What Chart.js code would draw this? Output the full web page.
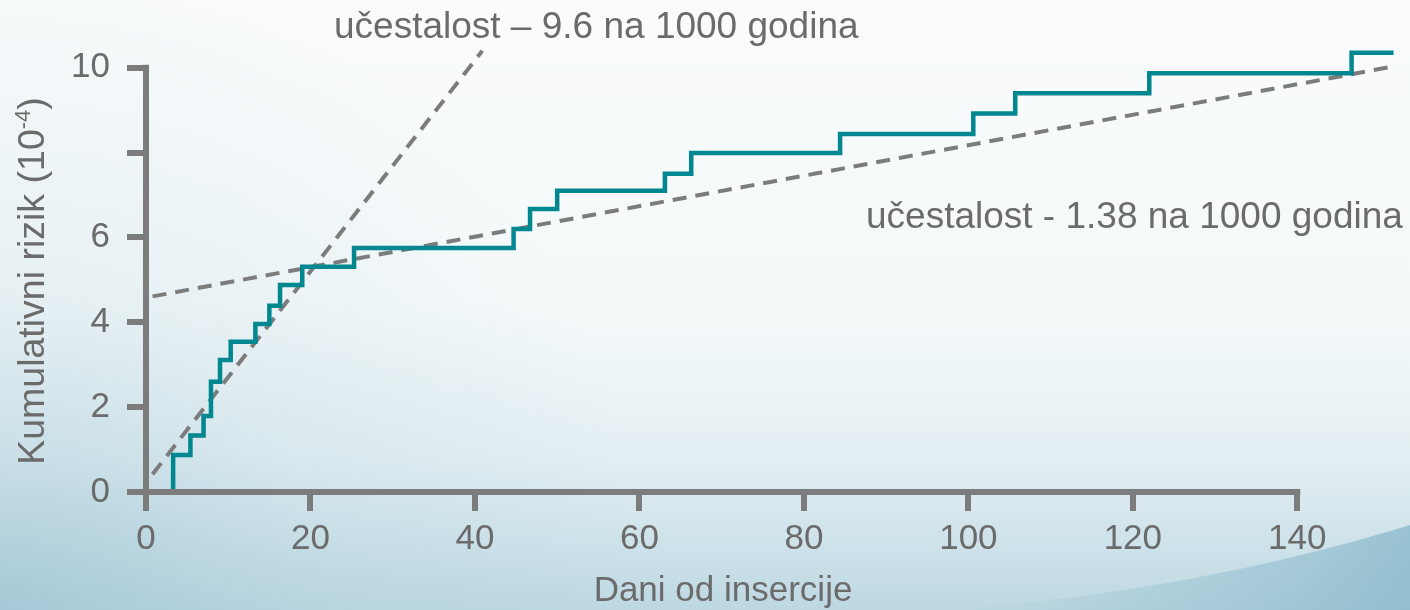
<!DOCTYPE html>
<html>
<head>
<meta charset="utf-8">
<script src="https://cdn.jsdelivr.net/npm/chart.js@4.4.1/dist/chart.umd.min.js"></script>
<style>
  html, body { margin: 0; padding: 0; }
  #wrap { width: 1410px; height: 610px; position: relative; }
</style>
</head>
<body>
<div id="wrap"><canvas id="risk-chart"></canvas></div>
<script>
// days at which the cumulative risk steps up, and the level after each step
const stepDays = [3.3, 5.4, 7.0, 7.9, 9.0, 10.3, 13.3, 15.0, 16.3, 19.0, 25.3, 44.7, 46.7, 50.0, 63.1, 66.3, 84.4, 100.6, 105.7, 122.0, 146.6];
const riskLevels = [0.87, 1.33, 1.79, 2.60, 3.11, 3.54, 3.96, 4.39, 4.88, 5.31, 5.75, 6.20, 6.67, 7.10, 7.50, 7.99, 8.44, 8.92, 9.40, 9.87, 10.35];
const lastDay = 151.7;

// the two fitted rates (dashed)
const steepDays = [0.8, 40.9];
const steepRisk = [0.42, 10.4];
const flatDays = [0.8, 151.7];
const flatRisk = [4.61, 10.03];

const xTicks = [0, 20, 40, 60, 80, 100, 120, 140];
const yTicks = [0, 2, 4, 6, 8, 10];
const yTickLabels = ["0", "2", "4", "6", "", "10"];

const gray = "#7c7c7c";
const textGray = "#6b6b6b";
const font = "'Liberation Sans', Arial, sans-serif";

const stepPoints = [{ x: stepDays[0], y: 0 }];
stepDays.forEach((d, i) => stepPoints.push({ x: d, y: riskLevels[i] }));
stepPoints.push({ x: lastDay, y: riskLevels[riskLevels.length - 1] });

const toPoints = (xs, ys) => xs.map((x, i) => ({ x: x, y: ys[i] }));

const backdrop = {
  id: "backdrop",
  beforeDraw(chart) {
    const ctx = chart.ctx, w = chart.width, h = chart.height;
    ctx.save();
    let g = ctx.createLinearGradient(0, 0, 0, h);
    g.addColorStop(0, "#f9fbfc");
    g.addColorStop(0.5, "#f5f9fa");
    g.addColorStop(0.75, "#e4eff3");
    g.addColorStop(1, "#bdd8e2");
    ctx.fillStyle = g;
    ctx.fillRect(0, 0, w, h);

    // soft bluish glow from the bottom left corner
    g = ctx.createRadialGradient(0, h, 0, 0, h, 650);
    g.addColorStop(0, "rgba(135,182,200,0.45)");
    g.addColorStop(0.5, "rgba(150,192,208,0.15)");
    g.addColorStop(1, "rgba(150,192,208,0)");
    ctx.fillStyle = g;
    ctx.fillRect(0, 0, w, h);

    // darker swoosh at the bottom right
    ctx.beginPath();
    ctx.moveTo(950, h);
    ctx.quadraticCurveTo(1200, 590, w, 525);
    ctx.lineTo(w, h);
    ctx.closePath();
    g = ctx.createLinearGradient(950, 0, w, 0);
    g.addColorStop(0, "rgba(140,185,202,0)");
    g.addColorStop(1, "rgba(130,180,200,0.7)");
    ctx.fillStyle = g;
    ctx.fill();
    ctx.restore();
  }
};

const axesAndText = {
  id: "axesAndText",
  afterDraw(chart) {
    const ctx = chart.ctx;
    const xs = chart.scales.x, ys = chart.scales.y;
    const x0 = xs.getPixelForValue(0), x140 = xs.getPixelForValue(140);
    const y0 = ys.getPixelForValue(0), y10 = ys.getPixelForValue(10);
    ctx.save();
    ctx.strokeStyle = gray;
    ctx.lineWidth = 6;
    ctx.lineCap = "butt";
    ctx.beginPath();
    ctx.moveTo(x0 - 3, y0);
    ctx.lineTo(x140 + 3, y0);
    ctx.moveTo(x0, y0 + 3);
    ctx.lineTo(x0, y10 - 3);
    ctx.stroke();

    ctx.fillStyle = textGray;
    ctx.textBaseline = "alphabetic";
    ctx.font = "37px " + font;
    ctx.textAlign = "left";
    ctx.fillText("učestalost – 9.6 na 1000 godina", 334, 38);
    ctx.fillText("učestalost - 1.38 na 1000 godina", 866, 228);

    ctx.font = "35px " + font;
    ctx.textAlign = "center";
    ctx.fillText("Dani od insercije", 723, 601);

    // rotated y title with superscript exponent
    ctx.translate(44, 281);
    ctx.rotate(-Math.PI / 2);
    const main = "Kumulativni rizik (10", sup = "-4", close = ")";
    ctx.font = "37.5px " + font;
    const wMain = ctx.measureText(main).width, wClose = ctx.measureText(close).width;
    ctx.font = "22px " + font;
    const wSup = ctx.measureText(sup).width;
    let x = -(wMain + wSup + wClose) / 2;
    ctx.textAlign = "left";
    ctx.font = "37.5px " + font;
    ctx.fillText(main, x, 0);
    x += wMain;
    ctx.font = "22px " + font;
    ctx.fillText(sup, x, -14);
    x += wSup;
    ctx.font = "37.5px " + font;
    ctx.fillText(close, x, 0);
    ctx.restore();
  }
};

new Chart(document.getElementById("risk-chart"), {
  type: "line",
  data: {
    datasets: [
      {
        label: "Kumulativni rizik",
        data: stepPoints,
        stepped: true,
        borderColor: "#00878f",
        borderWidth: 4.5,
        pointRadius: 0,
        fill: false
      },
      {
        label: "9.6 na 1000 godina",
        data: toPoints(steepDays, steepRisk),
        borderColor: gray,
        borderWidth: 4,
        borderDash: [14, 9],
        pointRadius: 0,
        fill: false
      },
      {
        label: "1.38 na 1000 godina",
        data: toPoints(flatDays, flatRisk),
        borderColor: gray,
        borderWidth: 4,
        borderDash: [14, 9],
        pointRadius: 0,
        fill: false
      }
    ]
  },
  options: {
    responsive: true,
    maintainAspectRatio: false,
    animation: false,
    layout: { padding: { top: 38, right: 14, left: 0, bottom: 0 } },
    plugins: {
      legend: { display: false },
      tooltip: { enabled: false }
    },
    scales: {
      x: {
        type: "linear",
        min: 0,
        max: 152,
        afterFit: (s) => { s.height = 118; },
        afterBuildTicks: (s) => { s.ticks = xTicks.map(v => ({ value: v })); },
        border: { display: false },
        grid: { drawOnChartArea: false, drawTicks: true, tickLength: 19, lineWidth: 6, color: gray },
        ticks: { color: textGray, font: { family: font, size: 35 }, padding: 7, maxRotation: 0 }
      },
      y: {
        type: "linear",
        min: 0,
        max: 10.7,
        afterFit: (s) => { s.width = 146; },
        afterBuildTicks: (s) => { s.ticks = yTicks.map(v => ({ value: v })); },
        border: { display: false },
        grid: { drawOnChartArea: false, drawTicks: true, tickLength: 19, lineWidth: 6, color: gray },
        ticks: {
          color: textGray,
          font: { family: font, size: 35 },
          padding: 17,
          callback: (v) => yTickLabels[yTicks.indexOf(v)]
        }
      }
    }
  },
  plugins: [backdrop, axesAndText]
});
</script>
</body>
</html>
